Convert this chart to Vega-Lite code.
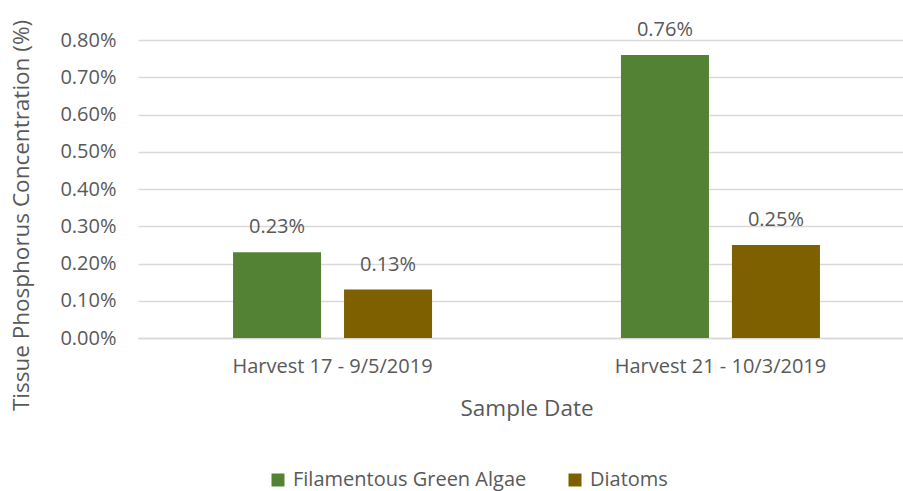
{
  "$schema": "https://vega.github.io/schema/vega-lite/v6.json",
  "width": 777,
  "height": 298,
  "padding": {"left": 138, "top": 40, "right": 0, "bottom": 153},
  "autosize": {"type": "none"},
  "background": "white",
  "data": {
    "values": [
      {"date": "Harvest 17 - 9/5/2019", "series": "Filamentous Green Algae", "value": 0.0023},
      {"date": "Harvest 17 - 9/5/2019", "series": "Diatoms", "value": 0.0013},
      {"date": "Harvest 21 - 10/3/2019", "series": "Filamentous Green Algae", "value": 0.0076},
      {"date": "Harvest 21 - 10/3/2019", "series": "Diatoms", "value": 0.0025}
    ]
  },
  "config": {
    "font": "Open Sans",
    "view": {"stroke": null},
    "axis": {"labelColor": "#595959", "titleColor": "#595959", "labelFont": "Open Sans", "titleFont": "Open Sans", "titleFontWeight": "normal"},
    "legend": {"labelColor": "#595959", "labelFont": "Open Sans"}
  },
  "encoding": {
    "x": {
      "field": "date", "type": "nominal", "title": "Sample Date",
      "scale": {"paddingInner": 0.487, "paddingOuter": 0.245},
      "axis": {"labelAngle": 0, "labelFontSize": 20, "labelLimit": 400, "titleFontSize": 22.5, "domain": true, "domainColor": "#d9d9d9", "domainWidth": 1.5, "ticks": false, "labelPadding": 18, "titlePadding": 21, "grid": false}
    },
    "xOffset": {"field": "series", "type": "nominal", "sort": ["Filamentous Green Algae", "Diatoms"], "scale": {"paddingInner": 0.207}},
    "y": {
      "field": "value", "type": "quantitative", "title": "Tissue Phosphorus Concentration (%)",
      "scale": {"domain": [0, 0.008]},
      "axis": {"format": ".2%", "values": [0, 0.001, 0.002, 0.003, 0.004, 0.005, 0.006, 0.007, 0.008], "labelFontSize": 20, "titleFontSize": 22.5, "domain": false, "ticks": false, "labelPadding": 22, "titleX": -117, "titleY": 175, "titleBaseline": "middle", "titleAlign": "center", "gridColor": "#d9d9d9", "gridWidth": 1.5}
    }
  },
  "layer": [
    {
      "mark": {"type": "bar"},
      "encoding": {
        "color": {
          "field": "series", "type": "nominal", "sort": ["Filamentous Green Algae", "Diatoms"],
          "scale": {"domain": ["Filamentous Green Algae", "Diatoms"], "range": ["#548235", "#7F6000"]},
          "legend": {"title": null, "orient": "none", "direction": "horizontal", "legendX": 130, "legendY": 430, "symbolType": "square", "symbolSize": 169, "labelFontSize": 20, "labelLimit": 400, "labelOffset": 5, "columnPadding": 38, "symbolStrokeWidth": 0}
        }
      }
    },
    {
      "mark": {"type": "text", "baseline": "bottom", "dy": -15, "fontSize": 20, "color": "#595959"},
      "encoding": {"text": {"field": "value", "type": "quantitative", "format": ".2%"}}
    }
  ]
}
